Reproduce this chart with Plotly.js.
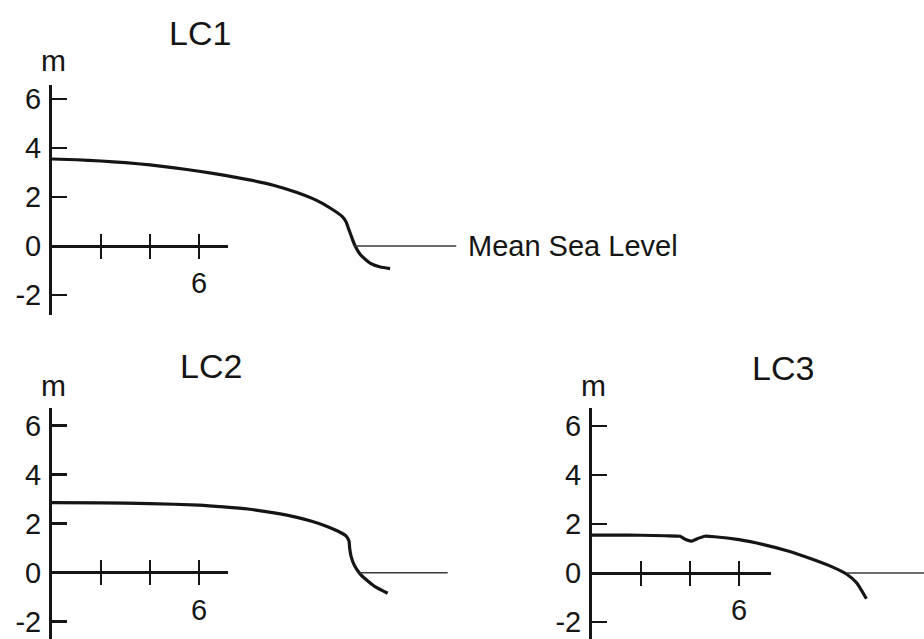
<!DOCTYPE html>
<html>
<head>
<meta charset="utf-8">
<script src="https://cdn.plot.ly/plotly-3.0.1.min.js"></script>
<style>
html,body{margin:0;padding:0;background:#ffffff;}
#chart{width:924px;height:639px;}
</style>
</head>
<body>
<div id="chart"></div>
<script>
// ---------- data ----------
const lc1X = [0, 1, 2, 3, 4, 5, 6, 7, 8, 9, 10, 10.8, 11.4, 11.85, 12.0, 12.1, 12.2, 12.35, 12.6, 13.0, 13.4, 13.8];
const lc1Y = [3.55, 3.52, 3.47, 3.40, 3.31, 3.19, 3.05, 2.89, 2.71, 2.49, 2.18, 1.86, 1.52, 1.20, 0.99, 0.72, 0.45, 0.05, -0.37, -0.71, -0.86, -0.92];

const lc2X = [0, 2, 4, 6, 7, 8, 9, 10, 10.6, 11.2, 11.7, 12.0, 12.12, 12.15, 12.2, 12.35, 12.6, 12.9, 13.2, 13.7];
const lc2Y = [2.86, 2.85, 2.82, 2.76, 2.69, 2.60, 2.45, 2.26, 2.10, 1.90, 1.68, 1.50, 1.30, 1.00, 0.70, 0.28, -0.08, -0.35, -0.58, -0.84];

const lc3X = [0, 1, 2, 3, 3.6, 3.8, 4.05, 4.3, 4.6, 5, 6, 7, 8, 9, 9.8, 10.4, 10.8, 11.2];
const lc3Y = [1.55, 1.55, 1.54, 1.52, 1.50, 1.38, 1.30, 1.40, 1.50, 1.48, 1.36, 1.16, 0.90, 0.56, 0.25, -0.05, -0.40, -1.05];

const sea1X = [12.35, 16.5];
const sea2X = [12.55, 16.15];
const sea3X = [10.4, 14.5];
const seaY  = [0, 0];

const panelTitles = ['LC1', 'LC2', 'LC3'];
const unitLabel = 'm';
const seaLabel = 'Mean Sea Level';
const yTickVals = [-2, 0, 2, 4, 6];
const yTickText = ['-2', '0', '2', '4', '6'];
const xTickVals = [2, 4, 6];
const xTickText = ['', '', '6'];

// ---------- layout geometry (pixels) ----------
const W = 924, H = 639, U = 24.5;
const fx = p => p / W;
const fy = p => 1 - p / H;
const FONT = 'Liberation Sans, Arial, Helvetica, sans-serif';
const INK = '#151515';
const TICK_FS = 29;

const panels = [
  {x0: 52,  y0: 246,   top: 85,  bottom: 315, right: 52 + 17 * U,  shortLen: 7.2},
  {x0: 52,  y0: 572.7, top: 408, bottom: 639, right: 52 + 17 * U,  shortLen: 7.2},
  {x0: 592, y0: 573,   top: 408, bottom: 639, right: 924,          shortLen: 7.3}
];

const layout = {
  width: W, height: H,
  margin: {l: 0, r: 0, t: 0, b: 0, pad: 0},
  paper_bgcolor: '#ffffff', plot_bgcolor: 'rgba(0,0,0,0)',
  showlegend: false,
  font: {family: FONT, color: INK, size: TICK_FS},
  annotations: []
};

panels.forEach((p, i) => {
  const m = i + 1;            // main subplot index
  const s = i + 4;            // short x-axis subplot index
  const mx = m === 1 ? 'xaxis' : 'xaxis' + m;
  const my = m === 1 ? 'yaxis' : 'yaxis' + m;
  layout[mx] = {
    domain: [fx(p.x0), fx(p.right)],
    range: [0, (p.right - p.x0) / U],
    anchor: m === 1 ? 'y' : 'y' + m,
    visible: false, showgrid: false, zeroline: false, fixedrange: true
  };
  layout[my] = {
    domain: [Math.max(0, fy(p.bottom)), fy(p.top)],
    range: [(p.y0 - p.bottom) / U, (p.y0 - p.top) / U],
    anchor: m === 1 ? 'x' : 'x' + m,
    showgrid: false, zeroline: false, showline: true,
    linecolor: INK, linewidth: 3,
    ticks: 'inside', ticklen: 15, tickwidth: 2.5, tickcolor: INK,
    tickmode: 'array', tickvals: yTickVals, ticktext: yTickText,
    ticklabelstandoff: 2,
    tickfont: {family: FONT, size: TICK_FS, color: INK},
    fixedrange: true
  };
  // short horizontal axis (0 .. ~7) sitting on y = 0
  layout['xaxis' + s] = {
    domain: [fx(p.x0), fx(p.x0 + p.shortLen * U)],
    range: [0, p.shortLen],
    anchor: 'y' + s,
    showgrid: false, zeroline: false, showline: true,
    linecolor: INK, linewidth: 3,
    ticks: 'outside', ticklen: 11, tickwidth: 2.5, tickcolor: INK,
    tickmode: 'array', tickvals: xTickVals, ticktext: xTickText,
    ticklabelstandoff: 0,
    tickfont: {family: FONT, size: TICK_FS, color: INK},
    fixedrange: true
  };
  layout['xaxis' + (s + 3)] = {
    domain: [fx(p.x0), fx(p.x0 + p.shortLen * U)],
    range: [0, p.shortLen],
    anchor: 'y' + s, overlaying: 'x' + s, side: 'bottom',
    showgrid: false, zeroline: false, showline: false,
    ticks: 'inside', ticklen: 11, tickwidth: 2.5, tickcolor: INK,
    tickmode: 'array', tickvals: xTickVals, showticklabels: false,
    fixedrange: true
  };
  layout['yaxis' + s] = {
    domain: [fy(p.y0 - 1.5), fy(p.y0 - 30)],
    range: [0, 1], anchor: 'x' + s,
    visible: false, showgrid: false, zeroline: false, fixedrange: true
  };
});

const titlePos = [[200, 33], [211, 366], [783, 368]];
const unitPos = [[53, 60], [53, 385], [593, 385]];
panelTitles.forEach((t, i) => {
  layout.annotations.push({
    text: t, xref: 'paper', yref: 'paper',
    x: fx(titlePos[i][0]), y: fy(titlePos[i][1]),
    xanchor: 'center', yanchor: 'middle', showarrow: false,
    font: {family: FONT, size: 34, color: INK}
  });
  layout.annotations.push({
    text: unitLabel, xref: 'paper', yref: 'paper',
    x: fx(unitPos[i][0]), y: fy(unitPos[i][1]),
    xanchor: 'center', yanchor: 'middle', showarrow: false,
    font: {family: FONT, size: 30, color: INK}
  });
});
layout.annotations.push({
  text: seaLabel, xref: 'paper', yref: 'paper',
  x: fx(466), y: fy(246),
  xanchor: 'left', yanchor: 'middle', showarrow: false,
  font: {family: FONT, size: 29, color: INK}
});

const profLine = {color: INK, width: 3.2, shape: 'spline', smoothing: 0.5};
const seaLine = {color: '#3a3a3a', width: 1.6};

const data = [
  {x: lc1X, y: lc1Y, xaxis: 'x',  yaxis: 'y',  type: 'scatter', mode: 'lines', line: profLine, hoverinfo: 'skip'},
  {x: sea1X, y: seaY, xaxis: 'x',  yaxis: 'y',  type: 'scatter', mode: 'lines', line: seaLine, hoverinfo: 'skip'},
  {x: lc2X, y: lc2Y, xaxis: 'x2', yaxis: 'y2', type: 'scatter', mode: 'lines', line: profLine, hoverinfo: 'skip'},
  {x: sea2X, y: seaY, xaxis: 'x2', yaxis: 'y2', type: 'scatter', mode: 'lines', line: seaLine, hoverinfo: 'skip'},
  {x: lc3X, y: lc3Y, xaxis: 'x3', yaxis: 'y3', type: 'scatter', mode: 'lines', line: profLine, hoverinfo: 'skip'},
  {x: sea3X, y: seaY, xaxis: 'x3', yaxis: 'y3', type: 'scatter', mode: 'lines', line: seaLine, hoverinfo: 'skip'}
];
// empty carrier traces so the short distance axes (and their crossing-tick overlays) get drawn
[4, 5, 6].forEach(s => {
  data.push({x: [], y: [], xaxis: 'x' + s, yaxis: 'y' + s, type: 'scatter', mode: 'lines', hoverinfo: 'skip', showlegend: false});
  data.push({x: [], y: [], xaxis: 'x' + (s + 3), yaxis: 'y' + s, type: 'scatter', mode: 'lines', hoverinfo: 'skip', showlegend: false});
});

Plotly.newPlot('chart', data, layout, {displayModeBar: false, staticPlot: true});
</script>
</body>
</html>
